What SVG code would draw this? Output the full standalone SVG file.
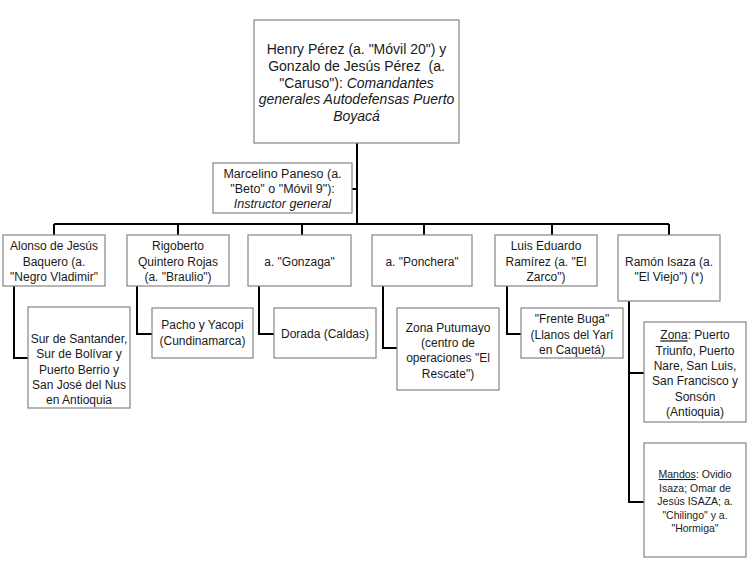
<svg xmlns="http://www.w3.org/2000/svg" width="750" height="565" viewBox="0 0 750 565">
<style>
.box{fill:#fff;stroke:#858585;stroke-width:1.2}
.c{fill:none;stroke:#000;stroke-width:2}
text{font-family:"Liberation Sans",Arial,sans-serif;fill:#1a1a1a;text-anchor:middle;white-space:pre}
.t14{font-size:14px}
.t125{font-size:12.5px}
.t12{font-size:12px}
.t105{font-size:10.5px}
.i{font-style:italic}
.u{text-decoration:underline}
</style>
<rect width="750" height="565" fill="#fff"/>
<g id="connectors">
<path class="c" d="M357,143V224M352,189H357M54,224H669M54,224V235M178,224V235M302,224V235M424,224V235M552,224V235M669,224V235"/>
<path class="c" d="M14,286V358H28M137,286V334H152M259,286V334H274M383,286V348H397M507,286V334H521M629,301V502H644M629,373H644"/>
</g>
<g id="top">
<rect class="box" x="254" y="20" width="205" height="123"/>
<text class="t14" x="356.5" y="54">Henry Pérez (a. "Móvil 20") y</text>
<text class="t14" x="356.5" y="70.8">Gonzalo de Jesús Pérez  (a.</text>
<text class="t14" x="356.5" y="87.6">"Caruso"): <tspan class="i">Comandantes</tspan></text>
<text class="t14 i" x="356.5" y="104.4">generales Autodefensas Puerto</text>
<text class="t14 i" x="356.5" y="121.2">Boyacá</text>
</g>
<g id="instructor">
<rect class="box" x="213" y="163" width="139" height="50"/>
<text class="t125" x="282.5" y="177.7">Marcelino Paneso (a.</text>
<text class="t125" x="282.5" y="193">"Beto" o "Móvil 9"):</text>
<text class="t125 i" x="282.5" y="207.7">Instructor general</text>
</g>
<g id="n1">
<rect class="box" x="3" y="235" width="102" height="51"/>
<text class="t12" x="54" y="250">Alonso de Jesús</text>
<text class="t12" x="54" y="265.5">Baquero (a.</text>
<text class="t12" x="54" y="281">"Negro Vladimir"</text>
</g>
<g id="n2">
<rect class="box" x="127" y="235" width="102" height="51"/>
<text class="t12" x="178" y="250">Rigoberto</text>
<text class="t12" x="178" y="265.5">Quintero Rojas</text>
<text class="t12" x="178" y="281">(a. "Braulio")</text>
</g>
<g id="n3">
<rect class="box" x="248" y="235" width="103" height="51"/>
<text class="t12" x="299.5" y="265.5">a. "Gonzaga"</text>
</g>
<g id="n4">
<rect class="box" x="372" y="235" width="100" height="51"/>
<text class="t12" x="422" y="265.5">a. "Ponchera"</text>
</g>
<g id="n5">
<rect class="box" x="495" y="235" width="102" height="51"/>
<text class="t12" x="546" y="250">Luis Eduardo</text>
<text class="t12" x="546" y="265.5">Ramírez (a. "El</text>
<text class="t12" x="546" y="281">Zarco")</text>
</g>
<g id="n6">
<rect class="box" x="618" y="235" width="102" height="66"/>
<text class="t12" x="669" y="265.5">Ramón Isaza (a.</text>
<text class="t12" x="669" y="281">"El Viejo") (*)</text>
</g>
<g id="s1">
<rect class="box" x="28" y="307" width="102" height="101"/>
<text class="t12" x="79" y="342.7">Sur de Santander,</text>
<text class="t12" x="79" y="358">Sur de Bolívar y</text>
<text class="t12" x="79" y="373.5">Puerto Berrio y</text>
<text class="t12" x="79" y="389">San José del Nus</text>
<text class="t12" x="79" y="404.4">en Antioquia</text>
</g>
<g id="s2">
<rect class="box" x="152" y="308" width="101" height="50"/>
<text class="t12" x="202.5" y="329.4">Pacho y Yacopi</text>
<text class="t12" x="202.5" y="345">(Cundinamarca)</text>
</g>
<g id="s3">
<rect class="box" x="274" y="308" width="102" height="50"/>
<text class="t12" x="325" y="337.7">Dorada (Caldas)</text>
</g>
<g id="s4">
<rect class="box" x="397" y="308" width="102" height="82"/>
<text class="t12" x="448" y="331.7">Zona Putumayo</text>
<text class="t12" x="448" y="347">(centro de</text>
<text class="t12" x="448" y="362.3">operaciones "El</text>
<text class="t12" x="448" y="378">Rescate")</text>
</g>
<g id="s5">
<rect class="box" x="521" y="308" width="102" height="50"/>
<text class="t12" x="572" y="323.4">"Frente Buga"</text>
<text class="t12" x="572" y="338.7">(Llanos del Yarí</text>
<text class="t12" x="572" y="354">en Caquetá)</text>
</g>
<g id="s6a">
<rect class="box" x="644" y="322" width="102" height="100"/>
<text class="t12" x="695" y="339.4"><tspan class="u">Zona</tspan>: Puerto</text>
<text class="t12" x="695" y="355">Triunfo, Puerto</text>
<text class="t12" x="695" y="370">Nare, San Luis,</text>
<text class="t12" x="695" y="385">San Francisco y</text>
<text class="t12" x="695" y="401">Sonsón</text>
<text class="t12" x="695" y="415.5">(Antioquia)</text>
</g>
<g id="s6b">
<rect class="box" x="644" y="443" width="102" height="114"/>
<text class="t105" x="695" y="478"><tspan class="u">Mandos</tspan>: Ovidio</text>
<text class="t105" x="695" y="491.5">Isaza; Omar de</text>
<text class="t105" x="695" y="505">Jesús ISAZA; a.</text>
<text class="t105" x="695" y="518.5">"Chilingo" y a.</text>
<text class="t105" x="695" y="532">"Hormiga"</text>
</g>
</svg>
